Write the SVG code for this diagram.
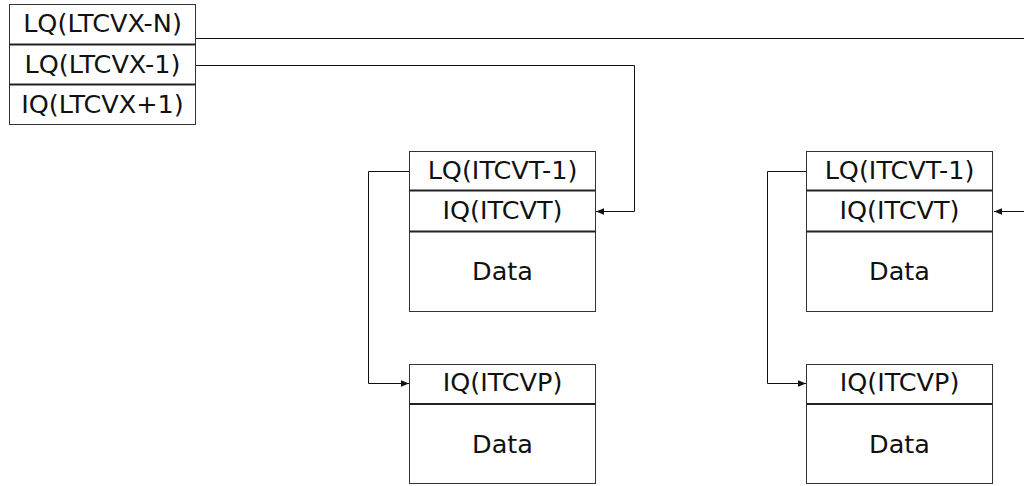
<svg xmlns="http://www.w3.org/2000/svg" width="1024" height="486" viewBox="0 0 1024 486">
<style>
.box{fill:#fff;stroke:#333;stroke-width:1}
.sep{stroke:#222;stroke-width:2}
.t{font-family:"DejaVu Sans",sans-serif;font-size:25.5px;fill:#111;text-anchor:middle}
.c{fill:none;stroke:#111;stroke-width:1}
</style>
<defs>
<marker id="ah" viewBox="0 0 10 10" refX="10" refY="5" markerWidth="10" markerHeight="8" markerUnits="userSpaceOnUse" orient="auto">
<path d="M0,1 L10,5 L0,9 Z" fill="#111"/>
</marker>
</defs>
<rect width="1024" height="486" fill="#fff"/>
<g id="connectors">
<path class="c" d="M196,38.5 H1024"/>
<path class="c" d="M196,65.5 H634.5 V211.5 H596" marker-end="url(#ah)"/>
<path class="c" d="M409,171.5 H368.5 V383.5 H409" marker-end="url(#ah)"/>
<path class="c" d="M1024,211.5 H994" marker-end="url(#ah)"/>
<path class="c" d="M806,171.5 H767.5 V383.5 H806" marker-end="url(#ah)"/>
</g>
<g id="node-ltcvx">
<rect class="box" x="9.5" y="4.5" width="186" height="120"/>
<line class="sep" x1="9.5" y1="44.5" x2="195.5" y2="44.5"/>
<line class="sep" x1="9.5" y1="84.5" x2="195.5" y2="84.5"/>
<text class="t" x="102.5" y="32">LQ(LTCVX-N)</text>
<text class="t" x="102.5" y="72.5">LQ(LTCVX-1)</text>
<text class="t" x="102.5" y="113">IQ(LTCVX+1)</text>
</g>
<g id="node-itcvt-1">
<rect class="box" x="409.5" y="151.5" width="186" height="160"/>
<line class="sep" x1="409.5" y1="190.5" x2="595.5" y2="190.5"/>
<line class="sep" x1="409.5" y1="231.5" x2="595.5" y2="231.5"/>
<text class="t" x="502.5" y="178.5">LQ(ITCVT-1)</text>
<text class="t" x="502.5" y="219">IQ(ITCVT)</text>
<text class="t" x="502.5" y="280">Data</text>
</g>
<g id="node-itcvp-1">
<rect class="box" x="409.5" y="364.5" width="186" height="119"/>
<line class="sep" x1="409.5" y1="404" x2="595.5" y2="404"/>
<text class="t" x="502.5" y="391">IQ(ITCVP)</text>
<text class="t" x="502.5" y="452.5">Data</text>
</g>
<g id="node-itcvt-2">
<rect class="box" x="806.5" y="151.5" width="186" height="160"/>
<line class="sep" x1="806.5" y1="190.5" x2="992.5" y2="190.5"/>
<line class="sep" x1="806.5" y1="231.5" x2="992.5" y2="231.5"/>
<text class="t" x="899.5" y="178.5">LQ(ITCVT-1)</text>
<text class="t" x="899.5" y="219">IQ(ITCVT)</text>
<text class="t" x="899.5" y="280">Data</text>
</g>
<g id="node-itcvp-2">
<rect class="box" x="806.5" y="364.5" width="186" height="119"/>
<line class="sep" x1="806.5" y1="404" x2="992.5" y2="404"/>
<text class="t" x="899.5" y="391">IQ(ITCVP)</text>
<text class="t" x="899.5" y="452.5">Data</text>
</g>
</svg>
